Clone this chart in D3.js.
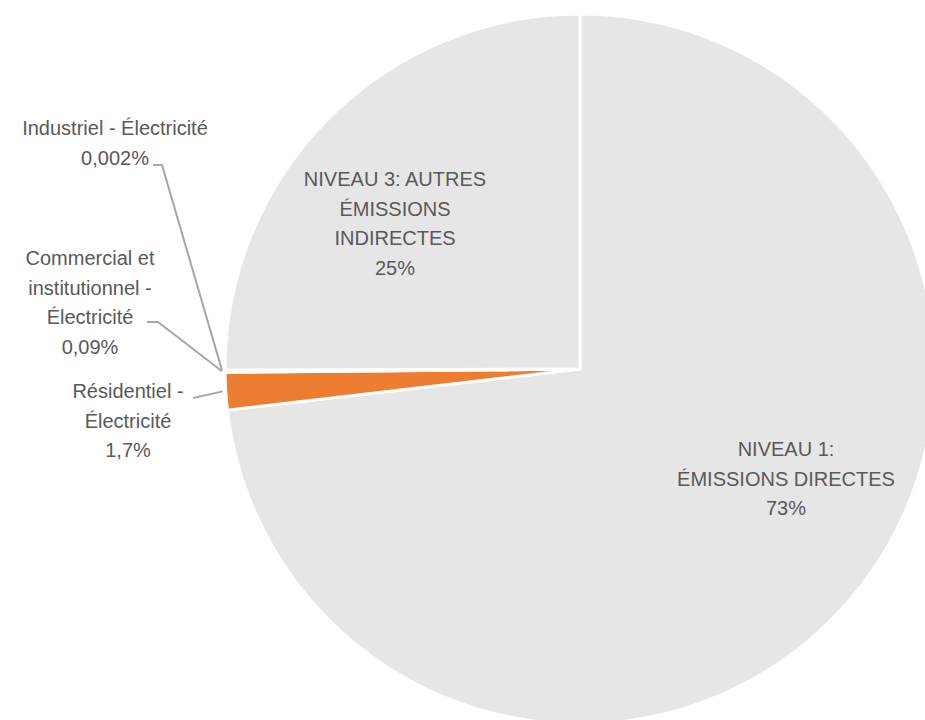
<!DOCTYPE html>
<html lang="fr">
<head>
<meta charset="utf-8">
<title>Émissions</title>
<style>
  body { margin: 0; background: #ffffff; }
  svg text { font-family: 'Liberation Sans', Arial, sans-serif; fill: #595959; }
</style>
</head>
<body>
<div id="chart"></div>
<script src="https://cdn.jsdelivr.net/npm/d3@7"></script>
<script>
// data
var categories = ["NIVEAU 1: ÉMISSIONS DIRECTES", "Résidentiel - Électricité",
  "Commercial et institutionnel - Électricité", "Industriel - Électricité",
  "NIVEAU 3: AUTRES ÉMISSIONS INDIRECTES"];
var values = [73, 1.7, 0.09, 0.002, 25];
var valueLabels = ["73%", "1,7%", "0,09%", "0,002%", "25%"];
var labelLines = [
  ["NIVEAU 1:", "ÉMISSIONS DIRECTES"],
  ["Résidentiel -", "Électricité"],
  ["Commercial et", "institutionnel -", "Électricité"],
  ["Industriel - Électricité"],
  ["NIVEAU 3: AUTRES", "ÉMISSIONS", "INDIRECTES"]
];
var colors = ["#e7e6e6", "#ed7d31", "#e7e6e6", "#e7e6e6", "#e7e6e6"];

var width = 925, height = 720;
var cx = 580, cy = 369, radius = 355;

// label layout: center x, first baseline y, and leader start (outside labels)
var labelPos = [
  { x: 786, y: 456 },
  { x: 128, y: 398, leader: [[193, 398], [193, 398]] },
  { x: 90, y: 265, leader: [[147, 322], [158, 322]] },
  { x: 115, y: 135, leader: [[153, 165], [162, 165]] },
  { x: 395, y: 186 }
];
var lineH = 29.5;

var svg = d3.select("#chart").append("svg")
  .attr("width", width).attr("height", height);

var pie = d3.pie().sort(null).value(function(d) { return d; });
var arcs = pie(values);
var arc = d3.arc().innerRadius(0).outerRadius(radius);

var g = svg.append("g").attr("transform", "translate(" + cx + "," + cy + ")");

g.selectAll("path")
  .data(arcs)
  .enter()
  .append("path")
    .attr("d", arc)
    .attr("fill", function(d, i) { return colors[i]; })
    .attr("stroke", "#ffffff")
    .attr("stroke-width", 3)
    .attr("stroke-linejoin", "miter");

// leader lines
arcs.forEach(function(a, i) {
  var p = labelPos[i];
  if (!p.leader) return;
  var mid = (a.startAngle + a.endAngle) / 2;
  var r = radius + 3;
  var ex = cx + r * Math.sin(mid);
  var ey = cy - r * Math.cos(mid);
  var pts = p.leader.concat([[ex, ey]]);
  svg.append("path")
    .attr("d", d3.line()(pts))
    .attr("fill", "none")
    .attr("stroke", "#a6a6a6")
    .attr("stroke-width", 2);
});

// labels
labelLines.forEach(function(lines, i) {
  var p = labelPos[i];
  var all = lines.concat([valueLabels[i]]);
  var t = svg.append("text")
    .attr("text-anchor", "middle")
    .attr("font-size", 20);
  all.forEach(function(s, k) {
    t.append("tspan")
      .attr("x", p.x)
      .attr("y", p.y + k * lineH)
      .text(s);
  });
});
</script>
</body>
</html>
